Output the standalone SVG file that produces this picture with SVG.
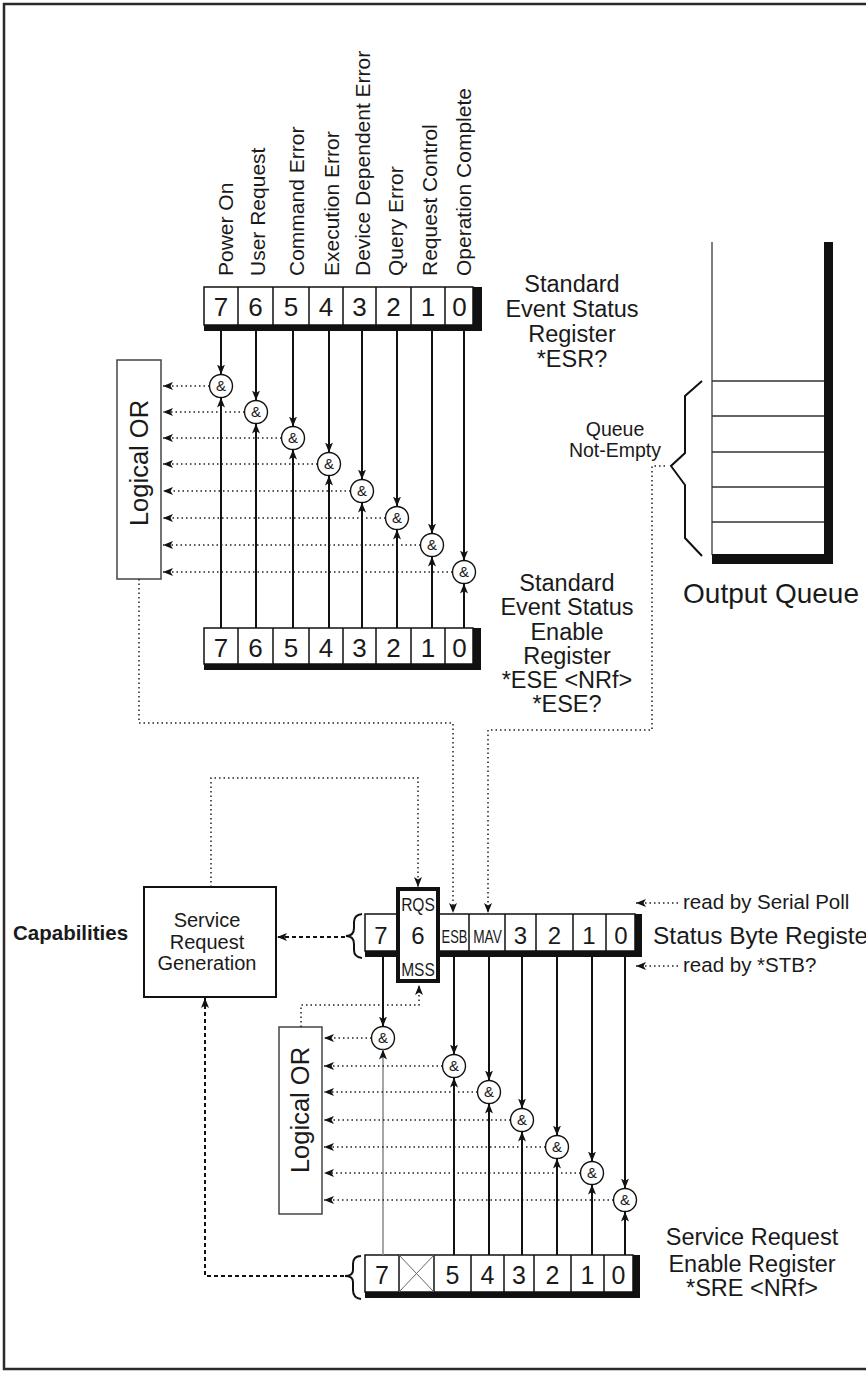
<svg xmlns="http://www.w3.org/2000/svg" width="866" height="1374" viewBox="0 0 866 1374">
<style>
text{font-family:"Liberation Sans",Arial,sans-serif;fill:#1a1a1a}
.lbl{font-size:21px}
.dg{font-size:26px;text-anchor:middle}
.dgs{font-size:24px;text-anchor:middle}
.rt{font-size:23.5px;text-anchor:middle}
.amp{font-size:15px;text-anchor:middle}
.ln{stroke:#111;stroke-width:2;fill:none}
.dot{stroke:#222;stroke-width:1.5;stroke-dasharray:1.5 3;fill:none}
.dash{stroke:#111;stroke-width:2;stroke-dasharray:4 3;fill:none}
.cell{fill:#fff;stroke:#111;stroke-width:1.5}
.div{stroke:#111;stroke-width:1.5}
.gate{fill:#fff;stroke:#111;stroke-width:1.4}
.or{fill:#fff;stroke:#444;stroke-width:1.5}
</style>
<defs>
<marker id="ah" viewBox="0 0 10 8" refX="10" refY="4" markerWidth="10" markerHeight="8" orient="auto" markerUnits="userSpaceOnUse"><path d="M0,0 L10,4 L0,8 L2.5,4 z" fill="#111"/></marker>
</defs>
<rect x="4" y="4" width="880" height="1365" fill="none" stroke="#2a2a2a" stroke-width="2.5"/>

<g id="labels">
<text class="lbl" transform="translate(233,276) rotate(-90)">Power On</text>
<text class="lbl" transform="translate(265,276) rotate(-90)">User Request</text>
<text class="lbl" transform="translate(304,276) rotate(-90)">Command Error</text>
<text class="lbl" transform="translate(339,276) rotate(-90)">Execution Error</text>
<text class="lbl" transform="translate(370,276) rotate(-90)">Device Dependent Error</text>
<text class="lbl" transform="translate(403,276) rotate(-90)">Query Error</text>
<text class="lbl" transform="translate(437,276) rotate(-90)">Request Control</text>
<text class="lbl" transform="translate(471,276) rotate(-90)">Operation Complete</text>
</g>

<g id="esr">
<rect x="204" y="287" width="278" height="44" fill="#111"/>
<rect class="cell" x="204" y="287" width="269" height="38"/>
<path class="div" d="M238,287V325M273,287V325M309,287V325M343,287V325M376,287V325M411,287V325M445,287V325"/>
<text class="dg" x="221" y="316">7</text><text class="dg" x="255.5" y="316">6</text><text class="dg" x="291" y="316">5</text><text class="dg" x="326" y="316">4</text><text class="dg" x="359.5" y="316">3</text><text class="dg" x="393.5" y="316">2</text><text class="dg" x="428" y="316">1</text><text class="dg" x="459.5" y="316">0</text>
<text class="rt" x="572" y="292">Standard</text>
<text class="rt" x="572" y="317">Event Status</text>
<text class="rt" x="572" y="342">Register</text>
<text class="rt" x="572" y="367">*ESR?</text>
</g>

<g id="ese">
<rect x="204" y="628" width="277" height="42" fill="#111"/>
<rect class="cell" x="204" y="628" width="269" height="36"/>
<path class="div" d="M238,628V664M273,628V664M309,628V664M343,628V664M376,628V664M411,628V664M445,628V664"/>
<text class="dg" x="221" y="657">7</text><text class="dg" x="255.5" y="657">6</text><text class="dg" x="291" y="657">5</text><text class="dg" x="326" y="657">4</text><text class="dg" x="359.5" y="657">3</text><text class="dg" x="393.5" y="657">2</text><text class="dg" x="428" y="657">1</text><text class="dg" x="459.5" y="657">0</text>
<text class="rt" x="567" y="591">Standard</text>
<text class="rt" x="567" y="615">Event Status</text>
<text class="rt" x="567" y="640">Enable</text>
<text class="rt" x="567" y="664">Register</text>
<text class="rt" x="567" y="688">*ESE &lt;NRf&gt;</text>
<text class="rt" x="567" y="712">*ESE?</text>
</g>

<g id="or-top">
<rect class="or" x="117" y="360" width="44" height="219"/>
<text transform="translate(148,463) rotate(-90)" style="font-size:25.5px;text-anchor:middle">Logical OR</text>
</g>

<g id="gates-top">
<circle class="gate" cx="221" cy="386" r="11.5"/><text class="amp" x="221" y="391">&amp;</text>
<circle class="gate" cx="256" cy="412" r="11.5"/><text class="amp" x="256" y="417">&amp;</text>
<circle class="gate" cx="293" cy="438" r="11.5"/><text class="amp" x="293" y="443">&amp;</text>
<circle class="gate" cx="329" cy="464" r="11.5"/><text class="amp" x="329" y="469">&amp;</text>
<circle class="gate" cx="362" cy="491" r="11.5"/><text class="amp" x="362" y="496">&amp;</text>
<circle class="gate" cx="397" cy="518" r="11.5"/><text class="amp" x="397" y="523">&amp;</text>
<circle class="gate" cx="432" cy="545" r="11.5"/><text class="amp" x="432" y="550">&amp;</text>
<circle class="gate" cx="464" cy="572" r="11.5"/><text class="amp" x="464" y="577">&amp;</text>
</g>

<g id="queue">
<path d="M712,242V555" stroke="#555" stroke-width="1.5" fill="none"/>
<rect x="824" y="242" width="9" height="322" fill="#111"/>
<rect x="712" y="554" width="121" height="10" fill="#111"/>
<path d="M712,381H824M712,416H824M712,452H824M712,487H824M712,522H824" stroke="#333" stroke-width="1.3"/>
<path d="M702,381L685,396L685,453L671,466L685,485L685,538L702,556" stroke="#111" stroke-width="2" fill="none"/>
<text x="615" y="436" style="font-size:19.5px;text-anchor:middle">Queue</text>
<text x="615" y="457" style="font-size:19.5px;text-anchor:middle">Not-Empty</text>
<text x="771" y="603" style="font-size:28px;text-anchor:middle">Output Queue</text>
</g>

<g id="srg">
<rect x="144" y="887" width="132" height="110" fill="#fff" stroke="#111" stroke-width="2"/>
<text x="207" y="927" style="font-size:20px;text-anchor:middle">Service</text>
<text x="207" y="949" style="font-size:20px;text-anchor:middle">Request</text>
<text x="207" y="970" style="font-size:20px;text-anchor:middle">Generation</text>
</g>
<g id="capabilities">
<text x="13" y="940" style="font-size:20.5px;font-weight:bold">Capabilities</text>
</g>

<g id="stb">
<rect x="365" y="914" width="277" height="43" fill="#111"/>
<rect class="cell" x="365" y="914" width="270" height="37"/>
<path class="div" d="M469,914V951M505,914V951M536,914V951M573,914V951M606,914V951"/>
<rect x="398" y="889" width="40" height="92" fill="#fff" stroke="#111" stroke-width="4"/>
<path d="M346,936 Q354,936 354,928 L354,922 Q354,915 362,914 M346,936 Q354,936 354,944 L354,950 Q354,957 362,958" stroke="#111" stroke-width="2" fill="none"/>
<text class="dgs" x="381" y="944">7</text>
<text class="dgs" x="418" y="944">6</text>
<text transform="translate(418,911) scale(0.82,1)" style="font-size:19px;text-anchor:middle">RQS</text>
<text transform="translate(418,976) scale(0.82,1)" style="font-size:19px;text-anchor:middle">MSS</text>
<text transform="translate(454.5,943) scale(0.68,1)" style="font-size:19px;text-anchor:middle">ESB</text>
<text transform="translate(487.5,943) scale(0.72,1)" style="font-size:19px;text-anchor:middle">MAV</text>
<text class="dgs" x="520.5" y="944">3</text><text class="dgs" x="554.5" y="944">2</text><text class="dgs" x="589" y="944">1</text><text class="dgs" x="621" y="944">0</text>
<text x="653" y="944" style="font-size:24.5px">Status Byte Register</text>
<text x="683" y="909" style="font-size:20.5px">read by Serial Poll</text>
<text x="683" y="972" style="font-size:20.5px">read by *STB?</text>
</g>

<g id="or-bottom">
<rect class="or" x="279" y="1027" width="43" height="187"/>
<text transform="translate(309,1110) rotate(-90)" style="font-size:25.5px;text-anchor:middle">Logical OR</text>
</g>

<g id="gates-bottom">
<circle class="gate" cx="383" cy="1038" r="11.5"/><text class="amp" x="383" y="1043">&amp;</text>
<circle class="gate" cx="454" cy="1066" r="11.5"/><text class="amp" x="454" y="1071">&amp;</text>
<circle class="gate" cx="489" cy="1092" r="11.5"/><text class="amp" x="489" y="1097">&amp;</text>
<circle class="gate" cx="522" cy="1120" r="11.5"/><text class="amp" x="522" y="1125">&amp;</text>
<circle class="gate" cx="557" cy="1147" r="11.5"/><text class="amp" x="557" y="1152">&amp;</text>
<circle class="gate" cx="592" cy="1173" r="11.5"/><text class="amp" x="592" y="1178">&amp;</text>
<circle class="gate" cx="625" cy="1200" r="11.5"/><text class="amp" x="625" y="1205">&amp;</text>
</g>

<g id="sre">
<rect x="365" y="1255" width="275" height="43" fill="#111"/>
<rect class="cell" x="365" y="1255" width="268" height="37"/>
<path class="div" d="M399,1255V1292M434,1255V1292M471,1255V1292M504,1255V1292M534,1255V1292M571,1255V1292M604,1255V1292"/>
<path d="M399,1255L434,1292M434,1255L399,1292" stroke="#666" stroke-width="1"/>
<path d="M361,1256 Q353,1256 353,1264 L353,1270 Q353,1276 345,1276 Q353,1276 353,1282 L353,1290 Q353,1298 361,1299" stroke="#111" stroke-width="2" fill="none"/>
<text class="dgs" x="382" y="1284" style="font-size:25px">7</text><text class="dgs" x="452.5" y="1284" style="font-size:25px">5</text><text class="dgs" x="487.5" y="1284" style="font-size:25px">4</text><text class="dgs" x="519" y="1284" style="font-size:25px">3</text><text class="dgs" x="552.5" y="1284" style="font-size:25px">2</text><text class="dgs" x="587.5" y="1284" style="font-size:25px">1</text><text class="dgs" x="618.5" y="1284" style="font-size:25px">0</text>
<text class="rt" x="752" y="1245">Service Request</text>
<text class="rt" x="752" y="1272">Enable Register</text>
<text class="rt" x="752" y="1296">*SRE &lt;NRf&gt;</text>
</g>

<g id="connectors">
<path class="ln" marker-end="url(#ah)" d="M221,331V374.5"/>
<path class="ln" marker-end="url(#ah)" d="M256,331V400.5"/>
<path class="ln" marker-end="url(#ah)" d="M293,331V426.5"/>
<path class="ln" marker-end="url(#ah)" d="M329,331V452.5"/>
<path class="ln" marker-end="url(#ah)" d="M362,331V479.5"/>
<path class="ln" marker-end="url(#ah)" d="M397,331V506.5"/>
<path class="ln" marker-end="url(#ah)" d="M432,331V533.5"/>
<path class="ln" marker-end="url(#ah)" d="M464,331V560.5"/>
<path class="ln" marker-end="url(#ah)" d="M221,628V397.5"/>
<path class="ln" marker-end="url(#ah)" d="M256,628V423.5"/>
<path class="ln" marker-end="url(#ah)" d="M293,628V449.5"/>
<path class="ln" marker-end="url(#ah)" d="M329,628V475.5"/>
<path class="ln" marker-end="url(#ah)" d="M362,628V502.5"/>
<path class="ln" marker-end="url(#ah)" d="M397,628V529.5"/>
<path class="ln" marker-end="url(#ah)" d="M432,628V556.5"/>
<path class="ln" marker-end="url(#ah)" d="M464,628V583.5"/>
<path class="dot" marker-end="url(#ah)" d="M209.5,386H163"/>
<path class="dot" marker-end="url(#ah)" d="M244.5,412H163"/>
<path class="dot" marker-end="url(#ah)" d="M281.5,438H163"/>
<path class="dot" marker-end="url(#ah)" d="M317.5,464H163"/>
<path class="dot" marker-end="url(#ah)" d="M350.5,491H163"/>
<path class="dot" marker-end="url(#ah)" d="M385.5,518H163"/>
<path class="dot" marker-end="url(#ah)" d="M420.5,545H163"/>
<path class="dot" marker-end="url(#ah)" d="M452.5,572H163"/>
<path class="dot" marker-end="url(#ah)" d="M139,579V723H453V913"/>
<path class="dot" marker-end="url(#ah)" d="M665,466H652V730H488V913"/>
<path class="dot" marker-end="url(#ah)" d="M211,887V778H418V887"/>
<path class="dot" marker-end="url(#ah)" d="M301,1027V1005H419V985"/>
<path class="dash" marker-end="url(#ah)" d="M345,937H277"/>
<path class="dash" marker-end="url(#ah)" d="M344,1276H205V998"/>
<path class="dot" marker-end="url(#ah)" d="M678,903H636"/>
<path class="dot" marker-end="url(#ah)" d="M678,966H636"/>
<path class="ln" marker-end="url(#ah)" d="M383,957V1026.5"/>
<path class="ln" marker-end="url(#ah)" d="M454,957V1054.5"/>
<path class="ln" marker-end="url(#ah)" d="M489,957V1080.5"/>
<path class="ln" marker-end="url(#ah)" d="M522,957V1108.5"/>
<path class="ln" marker-end="url(#ah)" d="M557,957V1135.5"/>
<path class="ln" marker-end="url(#ah)" d="M592,957V1161.5"/>
<path class="ln" marker-end="url(#ah)" d="M625,957V1188.5"/>
<path marker-end="url(#ah)" d="M383,1255V1049.5" stroke="#888" stroke-width="1.5" fill="none"/>
<path class="ln" marker-end="url(#ah)" d="M454,1255V1077.5"/>
<path class="ln" marker-end="url(#ah)" d="M489,1255V1103.5"/>
<path class="ln" marker-end="url(#ah)" d="M522,1255V1131.5"/>
<path class="ln" marker-end="url(#ah)" d="M557,1255V1158.5"/>
<path class="ln" marker-end="url(#ah)" d="M592,1255V1184.5"/>
<path class="ln" marker-end="url(#ah)" d="M625,1255V1211.5"/>
<path class="dot" marker-end="url(#ah)" d="M371.5,1038H324"/>
<path class="dot" marker-end="url(#ah)" d="M442.5,1066H324"/>
<path class="dot" marker-end="url(#ah)" d="M477.5,1092H324"/>
<path class="dot" marker-end="url(#ah)" d="M510.5,1120H324"/>
<path class="dot" marker-end="url(#ah)" d="M545.5,1147H324"/>
<path class="dot" marker-end="url(#ah)" d="M580.5,1173H324"/>
<path class="dot" marker-end="url(#ah)" d="M613.5,1200H324"/>
</g>
</svg>
